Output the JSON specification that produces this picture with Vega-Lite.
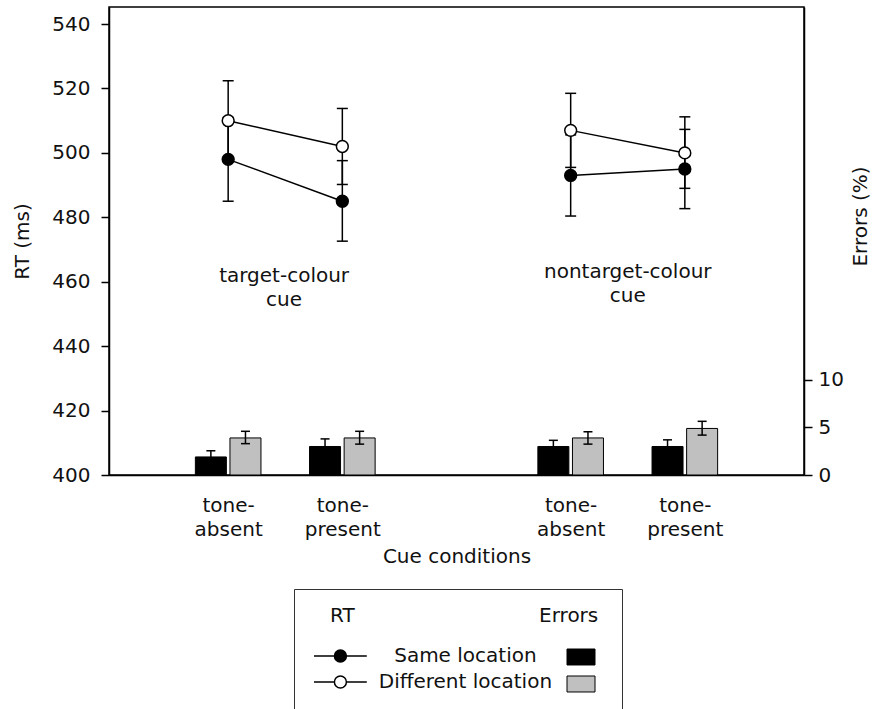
{
  "$schema": "https://vega.github.io/schema/vega-lite/v6.json",
  "width": 695,
  "height": 468,
  "autosize": "none",
  "padding": {"left": 109, "top": 7, "right": 72, "bottom": 234},
  "background": "white",
  "config": {
    "font": "DejaVu Sans",
    "view": {"stroke": "black", "strokeWidth": 1.5},
    "axis": {
      "labelFont": "DejaVu Sans", "labelFontSize": 20, "labelColor": "#111",
      "titleFont": "DejaVu Sans", "titleFontSize": 20, "titleFontWeight": "normal", "titleColor": "#111",
      "domainColor": "black", "domainWidth": 1.5, "tickColor": "black", "tickWidth": 1.5, "tickSize": 8, "grid": false
    },
    "legend": {"labelFont": "DejaVu Sans", "titleFont": "DejaVu Sans", "labelColor": "#111", "titleColor": "#111"}
  },
  "datasets": {
    "rt": [
      {"pos": 1, "cond": "Same location", "cue": "target", "rt": 498, "lo": 485, "hi": 511},
      {"pos": 1, "cond": "Different location", "cue": "target", "rt": 510, "lo": 498, "hi": 522.4},
      {"pos": 2, "cond": "Same location", "cue": "target", "rt": 485, "lo": 472.6, "hi": 497.6},
      {"pos": 2, "cond": "Different location", "cue": "target", "rt": 502, "lo": 490.2, "hi": 513.8},
      {"pos": 4, "cond": "Same location", "cue": "nontarget", "rt": 493, "lo": 480.4, "hi": 505.6},
      {"pos": 4, "cond": "Different location", "cue": "nontarget", "rt": 507, "lo": 495.5, "hi": 518.5},
      {"pos": 5, "cond": "Same location", "cue": "nontarget", "rt": 495, "lo": 482.7, "hi": 507.3},
      {"pos": 5, "cond": "Different location", "cue": "nontarget", "rt": 500, "lo": 489, "hi": 511.2}
    ],
    "err": [
      {"pos": 1, "cond": "Same location", "err": 1.9, "elo": 1.25, "ehi": 2.55},
      {"pos": 1, "cond": "Different location", "err": 3.9, "elo": 3.3, "ehi": 4.6},
      {"pos": 2, "cond": "Same location", "err": 3.0, "elo": 2.2, "ehi": 3.8},
      {"pos": 2, "cond": "Different location", "err": 3.9, "elo": 3.25, "ehi": 4.6},
      {"pos": 4, "cond": "Same location", "err": 3.0, "elo": 2.35, "ehi": 3.65},
      {"pos": 4, "cond": "Different location", "err": 3.9, "elo": 3.25, "ehi": 4.55},
      {"pos": 5, "cond": "Same location", "err": 3.0, "elo": 2.3, "ehi": 3.7},
      {"pos": 5, "cond": "Different location", "err": 4.9, "elo": 4.2, "ehi": 5.65}
    ],
    "notes": [
      {"pos": 1.49, "rt": 461.9, "label": "target-colour\ncue"},
      {"pos": 4.5, "rt": 463.1, "label": "nontarget-colour\ncue"}
    ]
  },
  "encoding": {
    "x": {
      "field": "pos", "type": "quantitative",
      "scale": {"domain": [0, 6], "nice": false, "zero": false},
      "axis": {
        "values": [1, 2, 4, 5],
        "labelExpr": "datum.value == 1 || datum.value == 4 ? ['tone-', 'absent'] : ['tone-', 'present']",
        "ticks": false, "tickSize": 0, "labelPadding": 20, "labelLineHeight": 24, "labelBaseline": "top",
        "title": "Cue conditions", "titleY": 87, "titleBaseline": "alphabetic"
      }
    }
  },
  "layer": [
    {
      "data": {"name": "rt"},
      "layer": [
        {
          "mark": {"type": "rule", "color": "black", "strokeWidth": 1.5},
          "encoding": {
            "y": {
              "field": "lo", "type": "quantitative", "title": "RT (ms)",
              "scale": {"domain": [400, 545.3], "nice": false, "zero": false},
              "axis": {"orient": "left", "values": [400, 420, 440, 460, 480, 500, 520, 540], "labelPadding": 11, "titleX": -87, "titleBaseline": "middle"}
            },
            "y2": {"field": "hi"}
          }
        },
        {
          "transform": [{"fold": ["lo", "hi"], "as": ["end", "v"]}],
          "mark": {"type": "rule", "color": "black", "strokeWidth": 1.5, "xOffset": -5.5, "x2Offset": 5.5},
          "encoding": {
            "x2": {"field": "pos"},
            "y": {"field": "v", "type": "quantitative", "title": "RT (ms)", "scale": {"domain": [400, 545.3], "nice": false, "zero": false}}
          }
        },
        {
          "mark": {"type": "line", "color": "black", "strokeWidth": 1.5},
          "encoding": {
            "y": {"field": "rt", "type": "quantitative", "title": "RT (ms)", "scale": {"domain": [400, 545.3], "nice": false, "zero": false}},
            "detail": [{"field": "cond", "type": "nominal"}, {"field": "cue", "type": "nominal"}]
          }
        },
        {
          "mark": {"type": "point", "shape": "circle", "size": 140, "stroke": "black", "strokeWidth": 1.5, "opacity": 1},
          "encoding": {
            "y": {"field": "rt", "type": "quantitative", "title": "RT (ms)", "scale": {"domain": [400, 545.3], "nice": false, "zero": false}},
            "fill": {
              "field": "cond", "type": "nominal",
              "scale": {"domain": ["Same location", "Different location"], "range": ["black", "white"]},
              "legend": {
                "orient": "none", "legendX": 185, "legendY": 582,
                "title": "\u200b\u00a0\u00a0\u00a0RT\u00a0\u00a0\u00a0\u00a0\u00a0\u00a0\u00a0\u00a0\u00a0\u00a0\u00a0\u00a0\u00a0\u00a0\u00a0\u00a0\u00a0\u00a0\u00a0\u00a0\u00a0\u00a0\u00a0\u00a0\u00a0\u00a0\u00a0\u00a0\u00a0Errors\u00a0\u200b",
                "titleFontSize": 20, "titleFontWeight": "normal", "titleLimit": 1000, "titlePadding": 20,
                "symbolType": "M-4.4,0H-1M1,0H4.4M-1,0A1,1 0 1 1 1,0A1,1 0 1 1 -1,0Z",
                "symbolSize": 144, "symbolOffset": 19.4, "symbolStrokeColor": "black", "symbolStrokeWidth": 1.5,
                "labelFontSize": 20, "labelOffset": 115, "labelAlign": "center", "labelLimit": 400,
                "padding": 17, "strokeColor": "#333", "rowPadding": 6
              }
            }
          }
        },
        {
          "data": {"name": "notes"},
          "mark": {"type": "text", "lineBreak": "\n", "fontSize": 20, "align": "center", "baseline": "middle", "lineHeight": 24, "color": "#111"},
          "encoding": {
            "y": {"field": "rt", "type": "quantitative", "title": "RT (ms)", "scale": {"domain": [400, 545.3], "nice": false, "zero": false}},
            "text": {"field": "label"}
          }
        }
      ]
    },
    {
      "data": {"name": "err"},
      "layer": [
        {
          "transform": [{"filter": "datum.cond == 'Same location'"}],
          "mark": {"type": "bar", "width": 31, "xOffset": -17.3, "stroke": "black", "strokeWidth": 1},
          "encoding": {
            "y": {
              "field": "err", "type": "quantitative", "title": "Errors (%)",
              "scale": {"domain": [0, 49.26], "nice": false},
              "axis": {"orient": "right", "values": [0, 5, 10], "labelPadding": 6, "titleAngle": 270, "titleX": 56, "titleY": 209, "titleBaseline": "middle", "titleAlign": "center"}
            },
            "color": {
              "field": "cond", "type": "nominal",
              "sort": ["Same location", "Different location"],
              "scale": {"range": ["black", "#c0c0c0"]},
              "legend": {
                "orient": "none", "legendX": 457.5, "legendY": 635.5, "title": null,
                "symbolType": "M-1,-0.571H1V0.571H-1Z", "symbolSize": 784, "symbolOffset": 0,
                "symbolStrokeColor": "black", "symbolStrokeWidth": 1,
                "labelExpr": "''", "labelFontSize": 20, "padding": 0, "rowPadding": 2
              }
            }
          }
        },
        {
          "transform": [{"filter": "datum.cond == 'Different location'"}],
          "mark": {"type": "bar", "width": 31, "xOffset": 17.3, "stroke": "black", "strokeWidth": 1},
          "encoding": {
            "y": {"field": "err", "type": "quantitative", "title": "Errors (%)", "scale": {"domain": [0, 49.26], "nice": false}},
            "color": {"field": "cond", "type": "nominal", "sort": ["Same location", "Different location"], "scale": {"range": ["black", "#c0c0c0"]}}
          }
        },
        {
          "transform": [{"filter": "datum.cond == 'Same location'"}],
          "mark": {"type": "rule", "color": "black", "strokeWidth": 1.5, "xOffset": -17.3},
          "encoding": {
            "y": {"field": "elo", "type": "quantitative", "title": "Errors (%)", "scale": {"domain": [0, 49.26], "nice": false}},
            "y2": {"field": "ehi"}
          }
        },
        {
          "transform": [{"filter": "datum.cond == 'Different location'"}],
          "mark": {"type": "rule", "color": "black", "strokeWidth": 1.5, "xOffset": 17.3},
          "encoding": {
            "y": {"field": "elo", "type": "quantitative", "title": "Errors (%)", "scale": {"domain": [0, 49.26], "nice": false}},
            "y2": {"field": "ehi"}
          }
        },
        {
          "transform": [{"filter": "datum.cond == 'Same location'"}, {"fold": ["elo", "ehi"], "as": ["end", "v"]}],
          "mark": {"type": "rule", "color": "black", "strokeWidth": 1.5, "xOffset": -21.8, "x2Offset": -12.8},
          "encoding": {
            "x2": {"field": "pos"},
            "y": {"field": "v", "type": "quantitative", "title": "Errors (%)", "scale": {"domain": [0, 49.26], "nice": false}}
          }
        },
        {
          "transform": [{"filter": "datum.cond == 'Different location'"}, {"fold": ["elo", "ehi"], "as": ["end", "v"]}],
          "mark": {"type": "rule", "color": "black", "strokeWidth": 1.5, "xOffset": 12.8, "x2Offset": 21.8},
          "encoding": {
            "x2": {"field": "pos"},
            "y": {"field": "v", "type": "quantitative", "title": "Errors (%)", "scale": {"domain": [0, 49.26], "nice": false}}
          }
        }
      ]
    }
  ],
  "resolve": {"scale": {"y": "independent"}}
}
